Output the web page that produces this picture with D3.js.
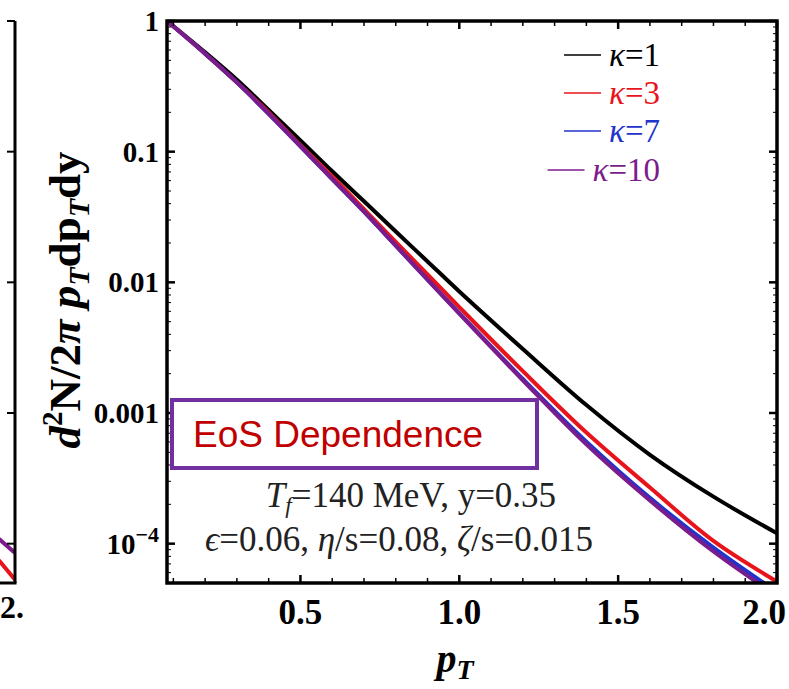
<!DOCTYPE html>
<html><head><meta charset="utf-8">
<script src="https://cdn.jsdelivr.net/npm/d3@7"></script>
<style>
html,body{margin:0;padding:0;background:#fff;}
svg{display:block;}
</style></head>
<body>
<svg id="chart" width="789" height="689"></svg>
<script>
// ---------- data ----------
const pT      = [0.08, 0.2, 0.3, 0.4, 0.5, 0.6, 0.7, 0.8, 0.9, 1.0, 1.2, 1.4, 1.6, 1.8, 2.0];
const kappa1  = [1, 0.575, 0.355, 0.209, 0.122, 0.0708, 0.0417, 0.0245, 0.01445, 0.00851, 0.00309, 0.00115, 0.000479, 0.000229, 0.000120];
const kappa3  = [1, 0.562, 0.339, 0.200, 0.112, 0.0646, 0.0363, 0.0204, 0.01148, 0.00646, 0.00209, 0.000708, 0.000269, 0.000105, 0.0000513];
const kappa7  = [1, 0.562, 0.339, 0.195, 0.110, 0.0617, 0.0347, 0.0191, 0.01047, 0.00582, 0.00182, 0.000603, 0.000224, 0.0000933, 0.0000427];
const kappa10 = [1, 0.562, 0.339, 0.195, 0.110, 0.0617, 0.0347, 0.0191, 0.01047, 0.00575, 0.00178, 0.000575, 0.000214, 0.0000871, 0.0000398];
const seriesNames = ["κ=1", "κ=3", "κ=7", "κ=10"];
const seriesColors = ["#000000", "#e8141c", "#2233cc", "#7b1c8c"];
const yTickValues = [1, 0.1, 0.01, 0.001, 0.0001];
const yTickLabels = ["1", "0.1", "0.01", "0.001", "10^-4"];
const xTickValues = [0.5, 1.0, 1.5, 2.0];
const xTickLabels = ["0.5", "1.0", "1.5", "2.0"];
// fragment of the neighbouring (cut-off) panel on the left
const leftPanelX = [1.9, 1.95, 2.0];
const leftPurple = [0.000135, 0.000107, 0.000085];
const leftRed = [0.000095, 0.000073, 0.000053];

// ---------- layout ----------
const svg = d3.select("#chart");
const L = 167, R = 777, T = 21, B = 583;
const x = d3.scaleLinear().domain([0.08, 2.0]).range([L, R]);
const y = d3.scaleLog().domain([5e-5, 1]).range([B, T]);

const serif = "'Liberation Serif','Times New Roman',serif";

svg.append("defs").append("clipPath").attr("id", "clip")
  .append("rect").attr("x", L).attr("y", T).attr("width", R - L).attr("height", B - T);

// ---------- left partial panel ----------
const xl = d3.scaleLinear().domain([1.95, 2.0]).range([0, 15]);
svg.append("defs").append("clipPath").attr("id", "clipL")
  .append("rect").attr("x", 0).attr("y", T).attr("width", 15).attr("height", B - T);
const lineL = d3.line().x((d, i) => xl(leftPanelX[i])).y(d => y(d));
svg.append("path").datum(leftPurple).attr("d", lineL).attr("fill", "none")
  .attr("stroke", seriesColors[3]).attr("stroke-width", 4).attr("clip-path", "url(#clipL)");
svg.append("path").datum(leftRed).attr("d", lineL).attr("fill", "none")
  .attr("stroke", seriesColors[1]).attr("stroke-width", 4).attr("clip-path", "url(#clipL)");
svg.append("line").attr("x1", 15).attr("x2", 15).attr("y1", T).attr("y2", B)
  .attr("stroke", "#000").attr("stroke-width", 3);
svg.append("line").attr("x1", 0).attr("x2", 16.5).attr("y1", B).attr("y2", B)
  .attr("stroke", "#000").attr("stroke-width", 3);
yTickValues.forEach(v => {
  svg.append("line").attr("x1", 7).attr("x2", 15).attr("y1", y(v)).attr("y2", y(v))
    .attr("stroke", "#000").attr("stroke-width", 2);
});
svg.append("text").attr("x", 0).attr("y", 618).attr("font-family", serif)
  .attr("font-weight", "bold").attr("font-size", 32).text("2.");

// ---------- curves ----------
const allSeries = [kappa1, kappa3, kappa7, kappa10];
const line = d3.line().x((d, i) => x(pT[i])).y(d => y(d)).curve(d3.curveCatmullRom.alpha(0.5));
const gCurves = svg.append("g").attr("clip-path", "url(#clip)");
allSeries.forEach((s, k) => {
  gCurves.append("path").datum(s).attr("d", line).attr("fill", "none")
    .attr("stroke", seriesColors[k]).attr("stroke-width", 4).attr("stroke-linejoin", "round");
});

// ---------- ticks (inward) ----------
const tg = svg.append("g");
const minorY = [];
for (let e = -5; e <= 0; e++) for (let m = 2; m < 10; m++) {
  const v = m * Math.pow(10, e);
  if (v >= 5e-5 && v <= 1) minorY.push(v);
}
yTickValues.forEach(v => {
  tg.append("line").attr("x1", L).attr("x2", L + 8).attr("y1", y(v)).attr("y2", y(v)).attr("stroke", "#000").attr("stroke-width", 2.5);
  tg.append("line").attr("x1", R - 8).attr("x2", R).attr("y1", y(v)).attr("y2", y(v)).attr("stroke", "#000").attr("stroke-width", 2.5);
});
minorY.forEach(v => {
  tg.append("line").attr("x1", L).attr("x2", L + 4).attr("y1", y(v)).attr("y2", y(v)).attr("stroke", "#000").attr("stroke-width", 1);
  tg.append("line").attr("x1", R - 4).attr("x2", R).attr("y1", y(v)).attr("y2", y(v)).attr("stroke", "#000").attr("stroke-width", 1);
});
const minorX = d3.range(1, 21).map(i => i / 10).filter(v => xTickValues.indexOf(v) < 0 && v >= 0.08);
xTickValues.forEach(v => {
  tg.append("line").attr("x1", x(v)).attr("x2", x(v)).attr("y1", B).attr("y2", B - 8).attr("stroke", "#000").attr("stroke-width", 2.5);
  tg.append("line").attr("x1", x(v)).attr("x2", x(v)).attr("y1", T).attr("y2", T + 8).attr("stroke", "#000").attr("stroke-width", 2.5);
});
minorX.forEach(v => {
  tg.append("line").attr("x1", x(v)).attr("x2", x(v)).attr("y1", B).attr("y2", B - 5).attr("stroke", "#000").attr("stroke-width", 1.5);
  tg.append("line").attr("x1", x(v)).attr("x2", x(v)).attr("y1", T).attr("y2", T + 5).attr("stroke", "#000").attr("stroke-width", 1.5);
});

svg.append("rect").attr("x", L).attr("y", T).attr("width", R - L).attr("height", B - T)
  .attr("fill", "none").attr("stroke", "#000").attr("stroke-width", 3.5);

// ---------- tick labels ----------
yTickValues.forEach((v, i) => {
  const t = svg.append("text").attr("x", 159).attr("y", y(v) + 10).attr("text-anchor", "end")
    .attr("font-family", serif).attr("font-weight", "bold").attr("font-size", 29);
  const lab = yTickLabels[i];
  if (lab.indexOf("^") >= 0) {
    const parts = lab.split("^");
    t.append("tspan").text(parts[0]);
    t.append("tspan").attr("dy", -12).attr("font-size", 22).text(parts[1].replace("-", "\u2212"));
  } else t.text(lab);
});
xTickValues.forEach((v, i) => {
  const t = svg.append("text").attr("y", 624).attr("text-anchor", "middle")
    .attr("font-family", serif).attr("font-weight", "bold").attr("font-size", 35).text(xTickLabels[i]);
  const w = t.node().getComputedTextLength();
  t.attr("x", Math.min(x(v), 786 - w / 2));
});

// ---------- axis titles ----------
const xt = svg.append("text").attr("x", 455).attr("y", 672).attr("text-anchor", "middle")
  .attr("font-family", serif).attr("font-weight", "bold").attr("font-size", 40);
xt.append("tspan").attr("font-style", "italic").text("p");
xt.append("tspan").attr("font-style", "italic").attr("font-size", 28).attr("dy", 7).text("T");

const yt = svg.append("text").attr("transform", "translate(80,300) rotate(-90)")
  .attr("text-anchor", "middle").attr("font-family", serif).attr("font-weight", "bold").attr("font-size", 45);
yt.append("tspan").attr("font-style", "italic").text("d");
yt.append("tspan").attr("font-size", 29).attr("dy", -18).text("2");
yt.append("tspan").attr("dy", 18).text("N/2");
yt.append("tspan").attr("font-style", "italic").text("π ");
yt.append("tspan").attr("font-style", "italic").text("p");
yt.append("tspan").attr("font-style", "italic").attr("font-size", 30).attr("dy", 9).text("T");
yt.append("tspan").attr("dy", -9).text("dp");
yt.append("tspan").attr("font-style", "italic").attr("font-size", 30).attr("dy", 9).text("T");
yt.append("tspan").attr("dy", -9).text("dy");

// ---------- legend ----------
const legY = [55, 93, 131, 170];
seriesNames.forEach((name, i) => {
  const g = svg.append("g");
  const txt = g.append("text").attr("x", 660).attr("y", legY[i] + 11).attr("text-anchor", "end")
    .attr("font-family", serif).attr("font-size", 33).attr("fill", seriesColors[i]);
  txt.append("tspan").attr("font-style", "italic").text("κ");
  txt.append("tspan").text(name.slice(1));
  const w = txt.node().getComputedTextLength();
  const x1 = 660 - w - 8;
  g.append("line").attr("x1", x1 - 37).attr("x2", x1).attr("y1", legY[i]).attr("y2", legY[i])
    .attr("stroke", seriesColors[i]).attr("stroke-width", 1.5);
});

// ---------- EoS box ----------
svg.append("rect").attr("x", 172).attr("y", 400).attr("width", 365).attr("height", 68)
  .attr("fill", "#fff").attr("stroke", "#7030a0").attr("stroke-width", 4);
svg.append("text").attr("x", 193).attr("y", 447).attr("font-family", "'Liberation Sans',Arial,sans-serif")
  .attr("font-size", 37).attr("fill", "#c00000").text("EoS Dependence");

// ---------- parameters text ----------
const p1 = svg.append("text").attr("x", 411).attr("y", 507).attr("text-anchor", "middle")
  .attr("font-family", serif).attr("font-size", 35).attr("fill", "#222");
p1.append("tspan").attr("font-style", "italic").text("T");
p1.append("tspan").attr("font-style", "italic").attr("font-size", 23).attr("dy", 6).text("f");
p1.append("tspan").attr("dy", -6).text("=140 MeV, y=0.35");
const p2 = svg.append("text").attr("x", 399).attr("y", 551).attr("text-anchor", "middle")
  .attr("font-family", serif).attr("font-size", 35).attr("fill", "#222");
p2.append("tspan").attr("font-style", "italic").text("ϵ");
p2.append("tspan").text("=0.06, ");
p2.append("tspan").attr("font-style", "italic").text("η");
p2.append("tspan").text("/s=0.08, ");
p2.append("tspan").attr("font-style", "italic").text("ζ");
p2.append("tspan").text("/s=0.015");
</script>
</body></html>
